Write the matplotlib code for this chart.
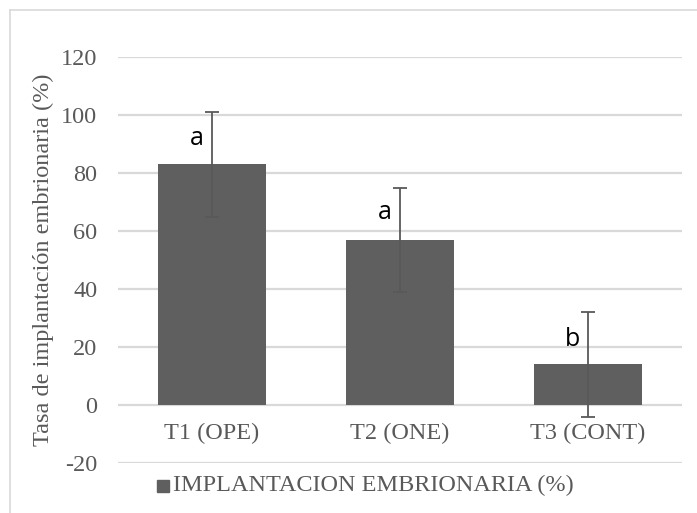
import matplotlib.pyplot as plt
from matplotlib.patches import Rectangle

# Data
categories = ["T1 (OPE)", "T2 (ONE)", "T3 (CONT)"]
values = [83, 57, 14]
errors = [18, 18, 18]
letters = ["a", "a", "b"]
letter_y = [92, 66.5, 22.5]
yticks = [-20, 0, 20, 40, 60, 80, 100, 120]
series_name = "IMPLANTACION EMBRIONARIA (%)"
ylabel = "Tasa de implantación embrionaria (%)"

bar_color = "#5f5f5f"
err_color = "#595959"
grid_color = "#d9d9d9"
text_gray = "#595959"
serif = ["Liberation Serif", "DejaVu Serif"]
fs = 17.5

fig = plt.figure(figsize=(6.97, 5.13), dpi=100)
fig.patch.set_facecolor("white")

# Outer chart border (top and left edges visible)
fig.add_artist(plt.Line2D([10 / 697, 1.0], [1 - 10 / 513, 1 - 10 / 513],
                          transform=fig.transFigure, color="#d9d9d9", lw=1.2))
fig.add_artist(plt.Line2D([10 / 697, 10 / 697], [0.0, 1 - 10 / 513],
                          transform=fig.transFigure, color="#d9d9d9", lw=1.2))

ax = fig.add_axes([118 / 697, 50 / 513, 564 / 697, 406 / 513])
x = list(range(len(categories)))

ax.set_ylim(-20, 120)
ax.set_xlim(-0.5, len(categories) - 0.5)
for t in yticks:
    ax.axhline(t, color=grid_color, lw=1.6, zorder=0)

ax.bar(x, values, width=0.57, color=bar_color, zorder=2)
ax.errorbar(x, values, yerr=errors, fmt="none", ecolor=err_color,
            elinewidth=1.3, capsize=5, capthick=1.3, zorder=3)

for xi, lab, ly in zip(x, letters, letter_y):
    ax.text(xi - 0.08, ly, lab, ha="center", va="center", fontsize=18,
            family=["Open Sans", "DejaVu Sans"], color="black", zorder=4)

for xi, cat in zip(x, categories):
    ax.text(xi, -9.8, cat, ha="center", va="center", fontsize=fs,
            family=serif, color=text_gray)

ax.set_yticks(yticks)
ax.set_yticklabels([str(t) for t in yticks], family=serif, fontsize=fs,
                   color=text_gray)
ax.tick_params(axis="y", length=0, pad=15)
ax.set_xticks([])
for s in ax.spines.values():
    s.set_visible(False)

fig.text(43 / 697, 1 - 260 / 513, ylabel, rotation=90, ha="center",
         va="center", family=serif, fontsize=fs, color=text_gray)

# Legend entry
fig.add_artist(Rectangle((157 / 697, 1 - 492 / 513), 12 / 697, 12 / 513,
                         transform=fig.transFigure, color=bar_color))
fig.text(173 / 697, 1 - 485 / 513, series_name, ha="left", va="center",
         fontsize=fs, family=serif, color=text_gray)

fig.savefig("out.png", dpi=100, facecolor="white")
